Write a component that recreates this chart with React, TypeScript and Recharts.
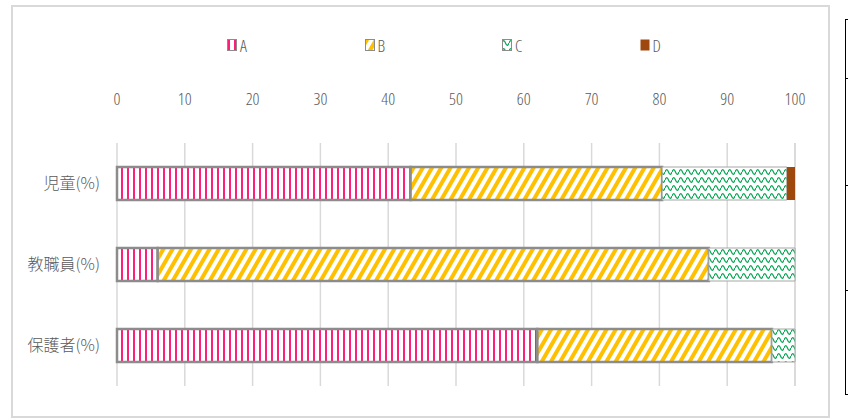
import { BarChart, Bar, XAxis, YAxis, CartesianGrid, Legend } from 'recharts'

const categories = ['児童(%)', '教職員(%)', '保護者(%)']
const seriesA = [43.3, 6.0, 62.0]
const seriesB = [37.1, 81.3, 34.6]
const seriesC = [18.4, 12.7, 3.4]
const seriesD = [1.2, 0, 0]
const seriesNames = ['A', 'B', 'C', 'D']
const xTicks = [0, 10, 20, 30, 40, 50, 60, 70, 80, 90, 100]

const data = categories.map((name, i) => ({
  name,
  A: seriesA[i],
  B: seriesB[i],
  C: seriesC[i],
  D: seriesD[i],
}))

const styles: Record<string, { fill: string; stroke: string; strokeWidth: number }> = {
  A: { fill: 'url(#patA)', stroke: '#8c8c8c', strokeWidth: 2.5 },
  B: { fill: 'url(#patB)', stroke: '#8c8c8c', strokeWidth: 2.5 },
  C: { fill: 'url(#patC)', stroke: '#a6a6a6', strokeWidth: 1 },
  D: { fill: '#9e480e', stroke: 'none', strokeWidth: 0 },
}

const narrow = '"Open Sans", sans-serif'
const cjk = '"Noto Sans CJK JP", "Noto Sans", sans-serif'
const grey = '#595959'

function LegendContent(props: any) {
  const payload = props.payload || []
  return (
    <div style={{ display: 'flex' }}>
      {payload.map((p: any) => {
        const s = styles[p.dataKey]
        return (
          <div key={p.dataKey} style={{ width: 137.5, display: 'flex', alignItems: 'center', height: 20 }}>
            <svg width={10} height={12}>
              <rect x={0.5} y={0.5} width={9} height={11} fill={s.fill}
                stroke={s.stroke === 'none' ? 'none' : '#8c8c8c'} strokeWidth={1} />
            </svg>
            <span style={{ marginLeft: 3, fontFamily: narrow, fontStretch: 'condensed', fontWeight: 300, fontSize: 17, color: grey }}>{p.value}</span>
          </div>
        )
      })}
    </div>
  )
}

export default function App() {
  return (
    <div style={{ position: 'absolute', left: 0, top: 0, width: 848, height: 420, background: '#fff', overflow: 'hidden' }}>
      <div style={{ position: 'absolute', left: 11, top: 5, width: 815, height: 409, border: '2px solid #d9d9d9' }} />
      <div style={{ position: 'absolute', left: 845, top: 19, width: 20, height: 374, border: '1.5px solid #000' }} />
      <div style={{ position: 'absolute', left: 845, top: 78, width: 10, height: 0, borderTop: '1.5px solid #000' }} />
      <div style={{ position: 'absolute', left: 845, top: 185, width: 10, height: 0, borderTop: '1.5px solid #000' }} />
      <div style={{ position: 'absolute', left: 845, top: 290, width: 10, height: 0, borderTop: '1.5px solid #000' }} />
      <div style={{ position: 'absolute', left: 0, top: 0 }}>
        <BarChart width={848} height={420} data={data} layout="vertical"
          margin={{ top: 105, right: 53, bottom: 34, left: 0 }}>
          <defs>
            <pattern id="patA" width={6} height={6} patternUnits="userSpaceOnUse">
              <rect x={0} y={0} width={6} height={6} fill="#fff" />
              <rect x={1} y={0} width={2} height={6} fill="#ff1f7a" />
            </pattern>
            <pattern id="patB" width={8} height={8} patternUnits="userSpaceOnUse" patternTransform="rotate(30)">
              <rect x={0} y={0} width={8} height={8} fill="#fff" />
              <rect x={0} y={0} width={4} height={8} fill="#ffc000" />
            </pattern>
            <pattern id="patC" width={7} height={8} patternUnits="userSpaceOnUse">
              <rect x={0} y={0} width={7} height={8} fill="#fff" />
              <path d="M0 4 C1.2 0.8 2.3 0.8 3.5 4 S5.8 7.2 7 4" fill="none" stroke="#00a651" strokeWidth={1.2} />
            </pattern>
          </defs>
          <CartesianGrid horizontal={false} stroke="#d9d9d9" strokeWidth={1.5} />
          <XAxis type="number" orientation="top" domain={[0, 100]} ticks={xTicks} height={38}
            axisLine={false} tickLine={false} tickSize={0} tickMargin={38} interval={0}
            tick={{ fill: grey, fontSize: 17, fontFamily: narrow, fontWeight: 300, style: { fontStretch: 'condensed' } }} />
          <YAxis type="category" dataKey="name" width={117}
            axisLine={false} tickLine={false} tickSize={0} tickMargin={17}
            tick={{ fill: grey, fontSize: 16, fontFamily: cjk, fontWeight: 300 }} />
          <Legend verticalAlign="middle" align="center" content={<LegendContent />}
            wrapperStyle={{ top: 35, left: 227, width: 560, height: 20 }} />
          {seriesNames.map((k) => (
            <Bar key={k} dataKey={k} stackId="s" barSize={33}
              fill={styles[k].fill} stroke={styles[k].stroke} strokeWidth={styles[k].strokeWidth}
              isAnimationActive={false} />
          ))}
        </BarChart>
      </div>
    </div>
  )
}
